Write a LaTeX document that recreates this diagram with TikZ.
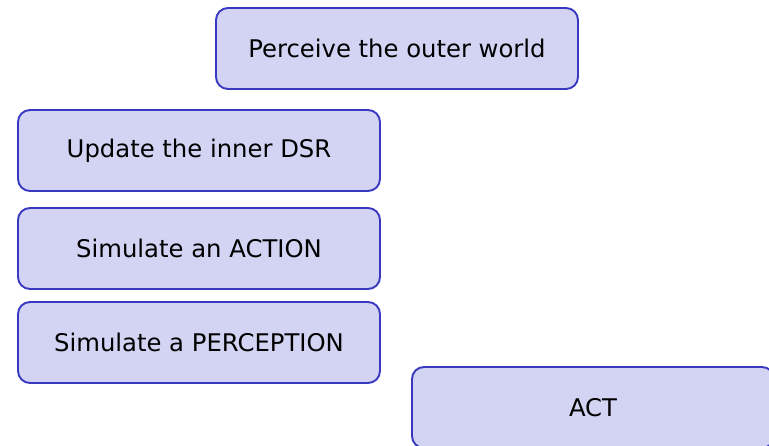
\documentclass[tikz,border=0pt]{standalone}
\usepackage{fontspec}
\setmainfont{DejaVu Sans}
\usepackage{tikz}
\usetikzlibrary{positioning}
\definecolor{stepfill}{RGB}{211,211,243}
\definecolor{stepline}{RGB}{56,56,192}

\begin{document}
\begin{tikzpicture}[x=1pt, y=-1pt,
    stepbox/.style={draw=stepline, fill=stepfill, line width=1.9pt,
        rounded corners=12pt, minimum width=362pt, minimum height=81pt,
        inner sep=0pt, font=\fontsize{24.3}{29}\selectfont}]
    % Canvas
    \useasboundingbox (0,0) rectangle (769,446);

    % Outer world
    \node[stepbox] (perceive) at (397, 48.5) {Perceive the outer world};

    % Inner loop
    \node[stepbox] (update) at (199, 150.5) {Update the inner DSR};
    \node[stepbox] (simact) at (199, 248.5) {Simulate an ACTION};
    \node[stepbox] (simperc) at (199, 342.5) {Simulate a PERCEPTION};

    % Acting
    \node[stepbox] (act) at (593, 407.5) {ACT};
\end{tikzpicture}
\end{document}
